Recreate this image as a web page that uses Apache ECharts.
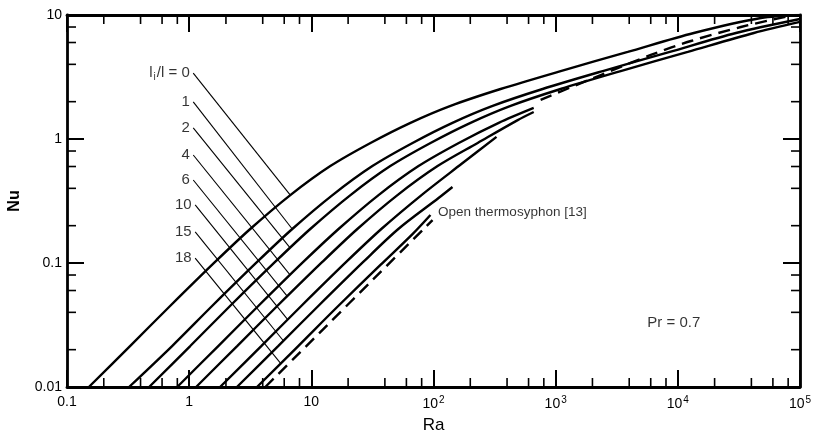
<!DOCTYPE html>
<html><head><meta charset="utf-8">
<script src="https://cdn.jsdelivr.net/npm/echarts@6.0.0/dist/echarts.min.js"></script>
<style>html,body{margin:0;padding:0;background:#fff}#c{width:820px;height:432px}</style>
</head><body><div id="c"></div>
<script>
// ---- tick labels ----
const xTickLabels = ['0.1', '1', '10', '10|2', '10|3', '10|4', '10|5'];
const yTickLabels = ['0.01', '0.1', '1', '10'];
const xMinorTicks = [0.2,0.4,0.6,0.8, 2,4,6,8, 20,40,60,80, 200,400,600,800, 2000,4000,6000,8000, 20000,40000,60000,80000];
const yMinorTicks = [0.02,0.04,0.06,0.08, 0.2,0.4,0.6,0.8, 2,4,6,8];

// ---- curves (Ra, Nu) for l_i/l ----
const curve0  = [[0.151,0.01],[0.328,0.0214],[0.698,0.045],[1.63,0.102],[3.16,0.188],[6.73,0.353],[14.3,0.605],[30.5,0.929],[64.8,1.35],[138,1.85],[354,2.53],[1099,3.53],[3890,5.04],[13520,7.16],[47860,9.46],[100000,10]];
const curve1  = [[0.322,0.01],[0.725,0.0214],[1.54,0.045],[3.6,0.102],[6.98,0.188],[14.9,0.353],[31.6,0.605],[67.4,0.929],[143,1.35],[305,1.85],[782,2.53],[2430,3.53],[8600,5.04],[29880,7.16],[100000,9.29]];
const curve2  = [[0.47,0.01],[1.02,0.0214],[2.16,0.045],[5.05,0.102],[9.8,0.188],[20.9,0.353],[44.3,0.605],[94.6,0.929],[201,1.35],[428,1.85],[1097,2.53],[3407,3.53],[12060,5.04],[41910,7.16],[100000,8.79]];
const curve4  = [[0.798,0.01],[1.73,0.0214],[3.68,0.045],[8.59,0.102],[16.7,0.188],[35.5,0.353],[75.4,0.605],[161,0.929],[342,1.35],[661,1.78]];
const curve6  = [[1.14,0.01],[2.47,0.0214],[5.26,0.045],[12.3,0.102],[23.8,0.188],[50.7,0.353],[108,0.605],[230,0.929],[489,1.42],[661,1.65]];
const curve10 = [[1.79,0.01],[3.89,0.0214],[8.27,0.045],[19.3,0.102],[37.4,0.188],[79.8,0.353],[169,0.628],[328,1.04]];
const curve15 = [[2.46,0.01],[5.35,0.0214],[11.4,0.045],[26.6,0.102],[51.5,0.188],[110,0.334],[143,0.41]];
const curve18 = [[3.59,0.01],[7.81,0.0214],[16.6,0.045],[36.8,0.0964],[67.3,0.171],[94.4,0.244]];
// open thermosyphon [13] (dashed)
const openLow  = [[4.2,0.01],[98.2,0.222]];
const openHigh = [[753,2.07],[2340,3.28],[6010,4.76],[12790,6.17],[32800,8.0],[84300,9.9]];

// ---- label leaders: [start, end on curve] ----
const leaderNames = ['0','1','2','4','6','10','15','18'];
const leaderStarts = [[1.08,3.4],[1.08,1.99],[1.08,1.23],[1.08,0.743],[1.08,0.467],[1.12,0.294],[1.12,0.178],[1.12,0.1096]];
const leaderEnds = [[6.73,0.353],[6.98,0.188],[6.73,0.132],[6.67,0.0807],[6.34,0.054],[6.41,0.035],[5.9,0.0236],[5.61,0.0155]];

const openLabelPos = [108, 0.258];
const prLabelPos = [5570, 0.0328];

const FONT = 'Liberation Sans';
const xMin = 0.1, xMax = 100000, yMin = 0.01, yMax = 10;

function xFmt(v) {
  const s = xTickLabels[Math.round(Math.log10(v)) + 1];
  if (!s) return '';
  if (s.indexOf('|') >= 0) { const p = s.split('|'); return '{b|' + p[0] + '}{s|' + p[1] + '}'; }
  return '{b|' + s + '}';
}
function yFmt(v) { return yTickLabels[Math.round(Math.log10(v)) + 2] || ''; }

function minorTicks(values, axis) {
  const L = 9;
  return {
    type: 'custom', silent: true, clip: false, z: 5,
    data: values.map(v => axis === 'x' ? [v, 1] : [1, v]),
    renderItem: function (params, api) {
      const st = { stroke: '#000', lineWidth: 1.6 };
      if (axis === 'x') {
        const v = api.value(0);
        const b = api.coord([v, yMin]), t = api.coord([v, yMax]);
        return { type: 'group', children: [
          { type: 'line', shape: { x1: b[0], y1: b[1], x2: b[0], y2: b[1] - L }, style: st },
          { type: 'line', shape: { x1: t[0], y1: t[1], x2: t[0], y2: t[1] + L }, style: st }
        ]};
      } else {
        const v = api.value(1);
        const l = api.coord([xMin, v]), r = api.coord([xMax, v]);
        return { type: 'group', children: [
          { type: 'line', shape: { x1: l[0], y1: l[1], x2: l[0] + L, y2: l[1] }, style: st },
          { type: 'line', shape: { x1: r[0], y1: r[1], x2: r[0] - L, y2: r[1] }, style: st }
        ]};
      }
    }
  };
}

function curveSeries(data, dashed) {
  return {
    type: 'line', data: data, showSymbol: false, symbol: 'none', smooth: 0.3,
    lineStyle: { color: '#000', width: 2.4, type: dashed ? [12, 7] : 'solid' },
    z: 3, silent: true
  };
}

const series = [];
[curve0, curve1, curve2, curve4, curve6, curve10, curve15, curve18].forEach(c => series.push(curveSeries(c, false)));
series.push(curveSeries(openLow, true));
series.push(curveSeries(openHigh, true));

leaderStarts.forEach((s, i) => {
  series.push({
    type: 'line', data: [s, leaderEnds[i]], showSymbol: false, symbol: 'none',
    lineStyle: { color: '#000', width: 1.1 }, z: 2, silent: true
  });
});

series.push({
  type: 'scatter', symbolSize: 1, itemStyle: { color: 'rgba(0,0,0,0)' }, silent: true, z: 6,
  data: leaderStarts.map((s, i) => ({ value: s, name: leaderNames[i] })),
  label: {
    show: true, position: 'left', distance: 3, color: '#000', fontFamily: FONT, fontSize: 15,
    formatter: p => p.dataIndex === 0 ? '{a|l}{s|i}{a|/l = ' + p.name + '}' : p.name,
    rich: { a: { fontFamily: FONT, fontSize: 15, color: '#000' }, s: { fontFamily: FONT, fontSize: 10, color: '#000', padding: [9, 1, 0, 1] } }
  }
});

series.push({
  type: 'scatter', symbolSize: 1, itemStyle: { color: 'rgba(0,0,0,0)' }, silent: true, z: 6,
  data: [{ value: openLabelPos, name: 'Open thermosyphon [13]', fs: 13 }, { value: prLabelPos, name: 'Pr = 0.7', fs: 15 }],
  label: { show: true, position: 'right', distance: 0, color: '#000', fontFamily: FONT,
    formatter: p => (p.dataIndex === 0 ? '{o|' : '{p|') + p.name + '}',
    rich: { o: { fontFamily: FONT, fontSize: 13.5, color: '#000' }, p: { fontFamily: FONT, fontSize: 15, color: '#000' } } }
});

series.push(minorTicks(xMinorTicks, 'x'));
series.push(minorTicks(yMinorTicks, 'y'));

const axisLine = { show: true, onZero: false, lineStyle: { color: '#000', width: 2.8 } };
const majorTick = { show: true, inside: true, length: 17, lineStyle: { color: '#000', width: 2 } };

const option = {
  animation: false,
  backgroundColor: '#fff',
  grid: { left: 67, right: 20, top: 15, bottom: 45, containLabel: false, outerBoundsMode: 'none' },
  xAxis: [
    { type: 'log', logBase: 10, min: xMin, max: xMax, interval: 1, position: 'bottom',
      axisLine: axisLine, axisTick: majorTick, splitLine: { show: false }, minorTick: { show: false },
      name: 'Ra', nameLocation: 'middle', nameGap: 27,
      nameTextStyle: { fontFamily: FONT, fontSize: 17, color: '#000' },
      axisLabel: { show: true, margin: 8, formatter: xFmt, color: '#000',
        rich: { b: { fontFamily: FONT, fontSize: 14, color: '#000' }, s: { fontFamily: FONT, fontSize: 10, color: '#000', padding: [0, 0, 9, 1] } } } },
    { type: 'log', logBase: 10, min: xMin, max: xMax, interval: 1, position: 'top',
      axisLine: axisLine, axisTick: majorTick, splitLine: { show: false }, axisLabel: { show: false } }
  ],
  yAxis: [
    { type: 'log', logBase: 10, min: yMin, max: yMax, interval: 1, position: 'left',
      axisLine: axisLine, axisTick: majorTick, splitLine: { show: false },
      name: 'Nu', nameLocation: 'middle', nameGap: 44, nameRotate: 90,
      nameTextStyle: { fontFamily: FONT, fontSize: 16, color: '#000', fontWeight: 'bold' },
      axisLabel: { show: true, margin: 5, formatter: yFmt, color: '#000', fontFamily: FONT, fontSize: 14 } },
    { type: 'log', logBase: 10, min: yMin, max: yMax, interval: 1, position: 'right',
      axisLine: axisLine, axisTick: majorTick, splitLine: { show: false }, axisLabel: { show: false } }
  ],
  series: series
};

const chart = echarts.init(document.getElementById('c'), null, { renderer: 'canvas' });
chart.setOption(option);
</script>
</body></html>
